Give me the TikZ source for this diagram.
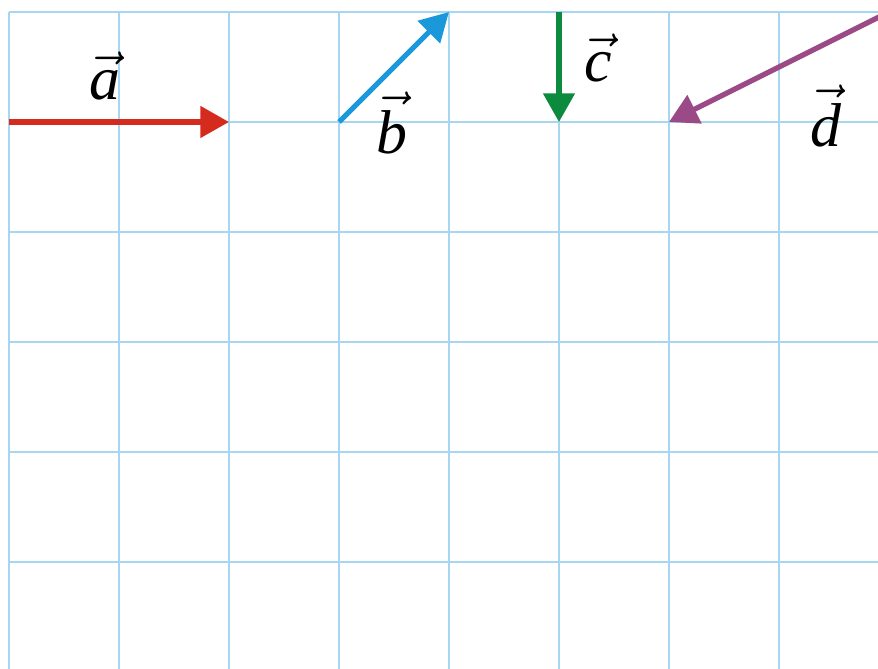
\documentclass[tikz,border=0pt]{standalone}
\usepackage{fontspec}
\setmainfont{Liberation Serif}
\usetikzlibrary{arrows.meta}
\definecolor{gridc}{HTML}{A6D6F0}
\definecolor{vecA}{HTML}{D52B1E}
\definecolor{vecB}{HTML}{1B98DA}
\definecolor{vecC}{HTML}{0C8A3E}
\definecolor{vecD}{HTML}{9B4A88}
\newcommand{\vlab}[1]{$\vec{\mbox{\itshape #1}}$}

\begin{document}
\begin{tikzpicture}[
  gridline/.style={draw=gridc, line width=0.45pt},
  vec/.style={line width=1.35pt, -{Triangle[length=2.6mm, width=2.8mm]}},
  lab/.style={font=\fontsize{16}{18}\selectfont, inner sep=0pt, anchor=base}]
\useasboundingbox (-0.0818,-5.9727) rectangle (7.9,0.109);
\clip (-0.0818,-5.9727) rectangle (7.9,0.109);
\foreach \x in {0,...,7} \draw[gridline] (\x,0) -- (\x,-6);
\foreach \y in {0,...,5} \draw[gridline] (0,-\y) -- (8,-\y);
\coordinate (a0) at (0,-1); \coordinate (a1) at (2,-1);
\coordinate (b0) at (3,-1); \coordinate (b1) at (4,0);
\coordinate (c0) at (5,0); \coordinate (c1) at (5,-1);
\coordinate (d0) at (8,0); \coordinate (d1) at (6,-1);
\draw[vec, vecA] (a0) -- (a1);
\draw[vec, vecB] (b0) -- (b1);
\draw[vec, vecC] (c0) -- (c1);
\draw[vec, vecD] (d0) -- (d1);
\node[lab] (la) at (0.873,-0.8) {\vlab{a}};
\node[lab] (lb) at (3.48,-1.286) {\vlab{b}};
\node[lab] (lc) at (5.36,-0.636) {\vlab{c}};
\node[lab] (ld) at (7.43,-1.227) {\vlab{d}};
\end{tikzpicture}
\end{document}
